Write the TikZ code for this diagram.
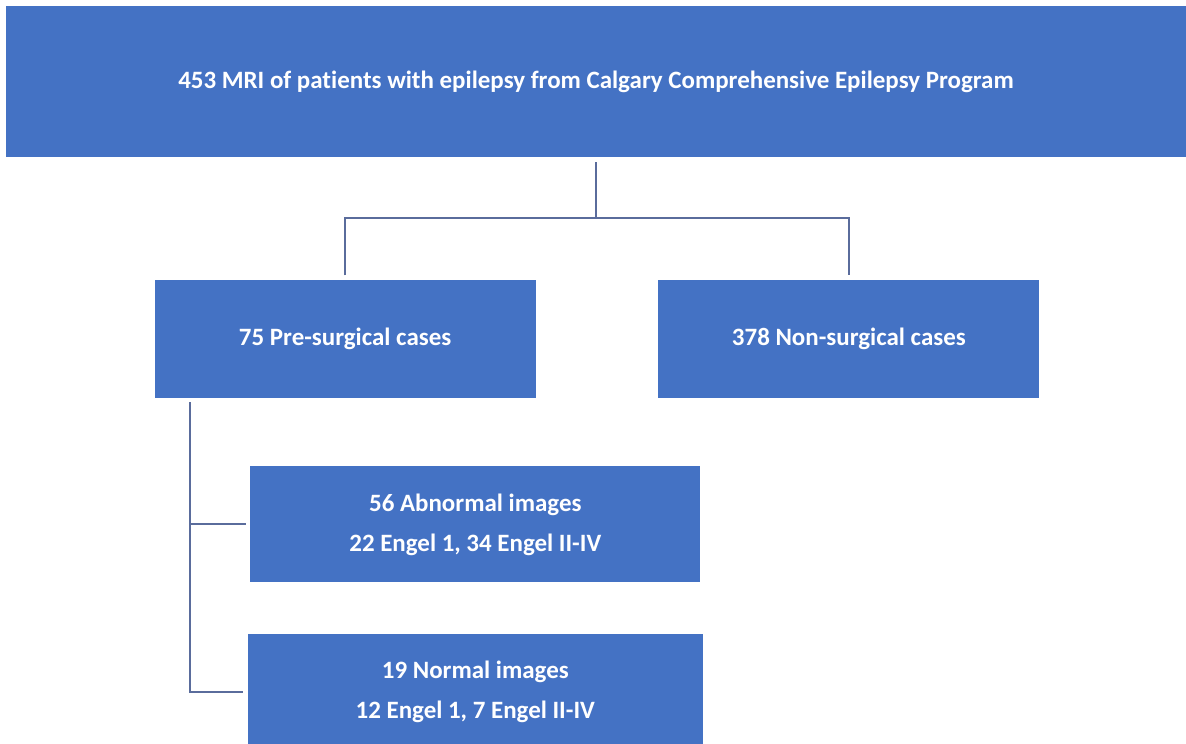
\documentclass[tikz,border=0pt]{standalone}
\usepackage{fontspec}
\setmainfont{Carlito}[Ligatures=NoCommon]
\usepackage{xcolor}
\usetikzlibrary{positioning}
\definecolor{boxblue}{HTML}{4472C4}
\definecolor{linkblue}{HTML}{5A6C9C}
\tikzstyle{stage} = [rectangle, minimum width=7.62cm, minimum height=2.36cm, text centered, align=center, fill=boxblue, text=white, font=\fontsize{14.2}{22.8}\selectfont\bfseries, inner sep=0pt]
\tikzstyle{link} = [draw=linkblue, line width=1.1pt]

\begin{document}
\begin{tikzpicture}[node distance=0cm]
    \clip (0,0) rectangle (23.72,-14.86);
    \fill[white] (0,0) rectangle (23.72,-14.86);

    \node (top) [stage, minimum width=23.6cm, minimum height=3.02cm] at (11.92,-1.63) {453 MRI of patients with epilepsy from Calgary Comprehensive Epilepsy Program};

    \node (pre) [stage, below=of top.south west, xshift=6.79cm, yshift=-2.44cm] {75 Pre-surgical cases};
    \node (non) [stage, right=of pre, xshift=2.44cm] {378 Non-surgical cases};

    \node (abn) [stage, minimum width=9cm, minimum height=2.32cm, below=of pre.south west, xshift=6.42cm, yshift=-1.36cm] {56 Abnormal images\\
    22 Engel 1, 34 Engel II-IV};
    \node (norm) [stage, minimum width=9.1cm, minimum height=2.32cm, below=of abn, yshift=-1.02cm] {19 Normal images\\
    12 Engel 1, 7 Engel II-IV};

    % split under the top box
    \coordinate (split) at ([yshift=-1.22cm]top.south);
    \draw [link] ([yshift=-0.1cm]top.south)--(split);
    \draw [link] ([yshift=0.08cm]pre.north) |- (split) -| ([yshift=0.08cm]non.north);

    % trunk on the left of the pre-surgical cases
    \coordinate (trunk) at ([xshift=0.72cm, yshift=-0.08cm]pre.south west);
    \draw [link] (trunk) |- ([xshift=-0.08cm]abn.west);
    \draw [link] (trunk) |- ([xshift=-0.08cm]norm.west);

\end{tikzpicture}
\end{document}
